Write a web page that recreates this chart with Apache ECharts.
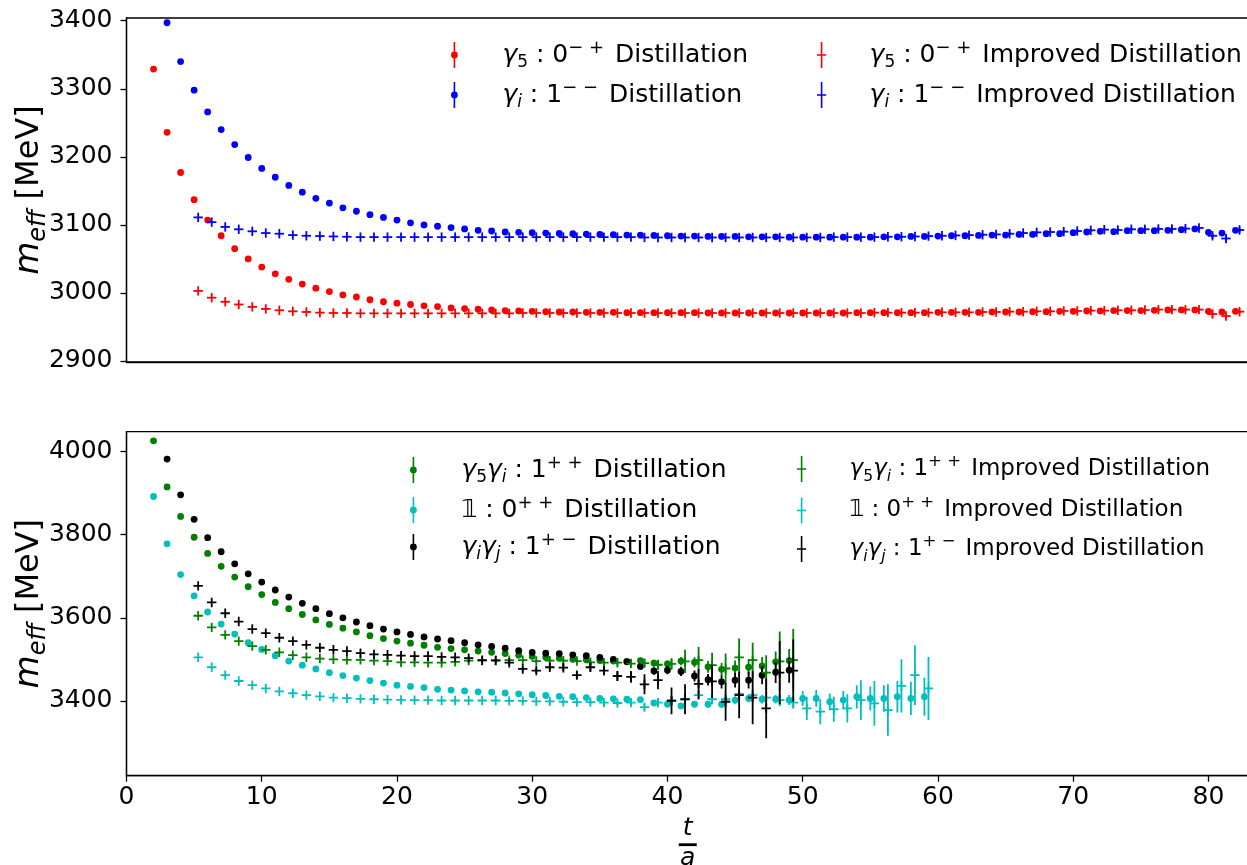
<!DOCTYPE html>
<html><head><meta charset="utf-8">
<script src="https://cdn.jsdelivr.net/npm/echarts@6/dist/echarts.min.js"></script>
<style>html,body{margin:0;padding:0;background:#fff}#c{width:1247px;height:865px}</style>
</head><body><div id="c"></div>
<script>
// ---------------- DATA ----------------
const xTicks = [0,10,20,30,40,50,60,70,80];
const yTicksTop = [2900,3000,3100,3200,3300,3400];
const yTicksBot = [3400,3600,3800,4000];

// Top panel: first t of each series
const tRedD = 2, tBlueD = 3, tRedI = 5, tBlueI = 5;
const redD = [3329,3236,3177,3137,3107,3084,3065,3050,3038,3028,
 3020,3013,3007,3002,2997,2994,2990,2987,2985,2983,
 2981,2980,2978,2977,2976,2975,2974,2973.5,2973,2972.5,
 2972,2972,2971.5,2971.5,2971.5,2971,2971,2971,2971,2971,
 2971,2970.5,2970.5,2970.5,2970.5,2970.5,2970.5,2970.5,2970.5,2970.5,
 2970.5,2970.5,2971,2971,2971,2971,2971,2971,2971.5,2971.5,
 2971.5,2971.5,2972,2972,2972,2972.5,2972.5,2973,2973,2973.5,
 2973.5,2974,2974,2974,2974.5,2975,2975,2975,2973,2972,
 2973];
const redDerr = [0.3,0.3,0.3,0.3,0.3,0.3,0.3,0.3,0.3,0.3,
 0.4,0.4,0.4,0.4,0.4,0.4,0.4,0.4,0.4,0.4,
 0.6,0.6,0.6,0.6,0.6,0.6,0.6,0.6,0.6,0.6,
 0.8,0.8,0.8,0.8,0.8,0.8,0.8,0.8,0.8,0.8,
 1,1,1,1,1,1,1,1,1,1,
 1.3,1.3,1.3,1.3,1.3,1.3,1.3,1.3,1.3,1.3,
 1.6,1.6,1.6,1.6,1.6,1.6,1.6,1.6,1.6,1.6,
 2,2,2,2,2,2,2,2,2,2,
 2.2];
const blueD = [3397,3340,3298,3266,3240,3218,3199,3183,3170,3158,
 3148,3139,3132,3125,3120,3115,3111,3107,3103,3100,
 3098,3096,3094,3092,3091,3089.5,3089,3088.5,3088,3087.5,
 3087,3086.5,3086,3085.5,3085,3085,3084.5,3084,3083.5,3083.5,
 3083,3083,3083,3082.5,3082.5,3082.5,3082,3082,3082,3082,
 3082,3082,3082,3082.5,3082.5,3083,3083,3083.5,3084,3084,
 3084.5,3085,3085,3086,3086,3087,3087,3088.5,3089.5,3090.5,
 3090,3091.5,3091.5,3091.5,3092,3093,3094,3089,3088,3092];
const blueDerr = [0.3,0.3,0.3,0.3,0.3,0.3,0.3,0.3,0.3,0.3,
 0.5,0.5,0.5,0.5,0.5,0.5,0.5,0.5,0.5,0.5,
 0.7,0.7,0.7,0.7,0.7,0.7,0.7,0.7,0.7,0.7,
 0.9,0.9,0.9,0.9,0.9,0.9,0.9,0.9,0.9,0.9,
 1.1,1.1,1.1,1.1,1.1,1.1,1.1,1.1,1.1,1.1,
 1.4,1.4,1.4,1.4,1.4,1.4,1.4,1.4,1.4,1.4,
 1.8,1.8,1.8,1.8,1.8,1.8,1.8,1.8,1.8,1.8,
 2.2,2.2,2.2,2.2,2.2,2.2,2.2,2.2,2.2,2.2];
const redI = [3003,2993,2987,2983,2979.5,2976.5,2974.5,2973,2972,2971,
 2970.5,2970.5,2970,2970,2970,2970,2970,2970,2970,2970,
 2970,2970,2970,2970,2970.5,2970.5,2970.5,2970.5,2970.5,2970.5,
 2970.5,2970.5,2970.5,2970.5,2970.5,2970.5,2970.5,2970.5,2970.5,2970.5,
 2970.5,2970.5,2970.5,2970.5,2970.5,2970.5,2970.5,2970.5,2970.5,2970.5,
 2971,2971,2971,2971,2971,2971.5,2971.5,2971.5,2972,2972,
 2972.5,2972.5,2973,2973,2973.5,2973.5,2974,2974,2974.5,2974.5,
 2975,2975.5,2975.5,2975.5,2975.5,2969,2966,2972.5];
const redIerr = [0.5,0.5,0.5,0.5,0.5,0.5,0.5,0.5,0.5,0.5,
 0.8,0.8,0.8,0.8,0.8,0.8,0.8,0.8,0.8,0.8,
 1,1,1,1,1,1,1,1,1,1,
 1.3,1.3,1.3,1.3,1.3,1.3,1.3,1.3,1.3,1.3,
 1.6,1.6,1.6,1.6,1.6,1.6,1.6,1.6,1.6,1.6,
 2,2,2,2,2,2,2,2,2,2,
 2.5,2.5,2.5,2.5,2.5,2.5,2.5,2.5,2.5,2.5,
 3,3,3,3,3,4,4,3.5];
const blueI = [3111,3104,3097,3093.5,3090.5,3088,3087,3085,3084,3083.5,
 3083,3082.5,3082,3082,3082,3082,3082,3082,3082,3082,
 3082,3082,3082,3082,3082,3082,3082,3082,3082,3082,
 3082,3082,3082,3081.5,3081.5,3081.5,3081.5,3081.5,3081.5,3081.5,
 3081.5,3081.5,3081.5,3081.5,3081.5,3081.5,3081.5,3082,3082,3082,
 3082,3082.5,3082.5,3083,3083.5,3084,3084.5,3085,3085.5,3086,
 3087,3088,3089,3089.5,3090,3091,3092,3093,3092.5,3093.5,
 3093.5,3094,3094,3094.5,3095.5,3084,3080,3092.5];
const blueIerr = [0.5,0.5,0.5,0.5,0.5,0.5,0.5,0.5,0.5,0.5,
 0.8,0.8,0.8,0.8,0.8,0.8,0.8,0.8,0.8,0.8,
 1,1,1,1,1,1,1,1,1,1,
 1.3,1.3,1.3,1.3,1.3,1.3,1.3,1.3,1.3,1.3,
 1.6,1.6,1.6,1.6,1.6,1.6,1.6,1.6,1.6,1.6,
 2,2,2,2,2,2,2,2,2,2,
 2.5,2.5,2.5,2.5,2.5,2.5,2.5,2.5,2.5,2.5,
 3,3,3,3,3,4,4,3.5];

// Bottom panel
const tGreenD = 2, tCyanD = 2, tBlackD = 3, tGreenI = 5, tCyanI = 5, tBlackI = 5;
const greenD = [4026,3915,3844,3794,3755,3724,3698,3675,3656,3637,
 3622,3608,3595,3584,3575,3566,3557,3550,3544,3539,
 3534,3529,3526,3523,3520,3517,3514,3510,3507,3505,
 3503,3500,3499,3497,3496,3495,3497,3491,3489,3496,
 3493,3482,3476,3479,3481,3484,3494,3497];
const greenDerr = [0.5,0.5,0.5,0.5,0.5,0.5,0.5,0.5,0.5,0.5,
 1,1,1,1,1,1,1,1,1,1,
 1.5,1.5,1.5,1.5,1.5,2,2,2.5,3,3,
 3.5,4,4,5,5,6,7,8,9,10,
 12,14,15,18,20,22,25,28];
const cyanD = [3892,3778,3704,3653,3614,3585,3561,3540,3524,3509,
 3496,3486,3477,3468,3461,3455,3449,3443,3438,3435,
 3432,3428,3426,3424,3422,3421,3419,3417,3415,3413,
 3411,3410,3408,3406,3405,3404,3403,3395,3392,3388,
 3392,3392,3392,3402,3406,3404,3404,3402,3406,3406,
 3398,3402,3410,3406,3406,3410,3406,3410];
const cyanDerr = [0.5,0.5,0.5,0.5,0.5,0.5,0.5,0.5,0.5,0.5,
 1,1,1,1,1,1,1,1,1,1,
 1.5,1.5,1.5,1.5,1.5,2,2,2.5,2.5,3,
 3,3.5,4,4,4.5,5,5.5,6,6.5,7,
 7.5,8,8.5,9,9.5,10,10,12,18,20,
 20,22,28,29,32,38,40,46];
const blackD = [3982,3896,3837,3793,3759,3730,3706,3686,3667,3650,
 3635,3622,3610,3600,3590,3581,3573,3566,3560,3554,
 3549,3545,3540,3535,3531,3527,3521,3517,3515,3514,
 3511,3509,3505,3500,3494,3483,3472,3474,3471,3460,
 3451,3446,3450,3450,3462,3469,3474];
const blackDerr = [0.5,0.5,0.5,0.5,0.5,0.5,0.5,0.5,0.5,0.5,
 1,1,1,1,1,1,1,1,1,1,
 1.5,1.5,2,2,2.5,2.5,3,3,3.5,4,
 4.5,5,5.5,6,7,8,9,10,11,13,
 14,16,18,20,22,26,30];
const greenI = [3605,3577,3559,3544,3532,3523,3517,3510,3505,3502,
 3500,3499,3499,3497,3496,3493,3493,3492,3492,3494,
 3497,3497,3498,3498,3498,3496,3497,3497,3496,3493,
 3492,3492,3490,3491,3487,3489,3495,3498,3486,3478,
 3505,3498,3468,3495,3498];
const greenIerr = [1,1,1,1,1,1,1,1,1,1,
 1.5,1.5,1.5,1.5,1.5,1.5,1.5,1.5,1.5,1.5,
 2,2.5,3,3,3.5,4,4,5,5,6,
 6,7,8,10,12,14,28,32,30,36,
 45,42,42,72,75];
const cyanI = [3505,3481,3462,3448,3438,3430,3423,3418.5,3414,3411,
 3408,3406.5,3405,3404,3403,3402.5,3402,3402,3401,3401,
 3401,3401,3401,3400,3400,3399,3399,3398,3397,3397,
 3396,3395,3396,3385,3396,3402,3404,3414,3404,3404,
 3417,3414,3408,3402,3396,3382,3374,3380,3382,3402,
 3394,3378,3436,3462,3430];
const cyanIerr = [1,1,1,1,1,1,1,1,1,1,
 1.5,1.5,1.5,1.5,1.5,1.5,1.5,1.5,1.5,1.5,
 2,2,2.5,2.5,3,3,3.5,4,4,4.5,
 5,5.5,6,8,9,10,10,11,12,12,
 13,14,15,15,15,28,30,30,34,48,
 54,62,64,72,76];
const blackI = [3677,3637,3611,3591,3573,3563,3552,3544,3535,3528,
 3523,3520,3515,3512,3511,3509,3508,3508,3506,3505,
 3503,3498,3497,3492,3477,3473,3481,3480,3462,3481,
 3473,3460,3458,3440,3450,3400,3404,3441,3447,3398,
 3414,3408,3382,3468,3473];
const blackIerr = [1,1,1,1,1,1,1,1,1,1,
 2,2,2,2,2,2,2,2,2,2,
 3,3.5,4,5,6,6,7,8,9,10,
 11,12,14,24,22,32,36,36,40,46,
 56,64,72,76,75];

// ---------------- CHART ----------------
const F = 'DejaVu Sans';
const SHIFT = 0.3; // horizontal dodge of "Improved" points
function pts(vals, errs, t0, shift){ return vals.map((v,i)=>[t0+i+shift, v, errs[i]]); }

function renderer(kind){
  return function(params, api){
    const x=api.value(0), y=api.value(1), e=api.value(2);
    const c=api.coord([x,y]), lo=api.coord([x,y-e]), hi=api.coord([x,y+e]);
    const col=api.visual('color');
    const ch=[{type:'line', shape:{x1:c[0],y1:lo[1],x2:c[0],y2:hi[1]}, style:{stroke:col,lineWidth:1.8}}];
    if(kind==='dot'){
      ch.push({type:'circle', shape:{cx:c[0],cy:c[1],r:3.4}, style:{fill:col}});
    } else {
      ch.push({type:'line', shape:{x1:c[0]-4.7,y1:c[1],x2:c[0]+4.7,y2:c[1]}, style:{stroke:col,lineWidth:1.8}});
      ch.push({type:'line', shape:{x1:c[0],y1:c[1]-4.7,x2:c[0],y2:c[1]+4.7}, style:{stroke:col,lineWidth:1.8}});
    }
    return {type:'group', children:ch};
  };
}
const ICON_D = 'path://M4.2,0h1.6v10.5h-1.6z M4.2,15.5h1.6v10.5h-1.6z M1.6,13a3.4,3.4 0 1,1 6.8,0a3.4,3.4 0 1,1 -6.8,0z';
const ICON_I = 'path://M4.2,0h1.6v26h-1.6z M0.4,12.2h9.2v1.6h-9.2z';

const S = [
 {name:'rD', color:'#ff0000', kind:'dot', g:0, data:pts(redD,redDerr,tRedD,0),
  label:'{g|γ}{sb|5}{r| : 0}{sp|− +}{r| Distillation}'},
 {name:'bD', color:'#0000ff', kind:'dot', g:0, data:pts(blueD,blueDerr,tBlueD,0),
  label:'{g|γ}{sbi|i}{r| : 1}{sp|− −}{r| Distillation}'},
 {name:'rI', color:'#ff0000', kind:'plus', g:0, data:pts(redI,redIerr,tRedI,SHIFT),
  label:'{g|γ}{sb|5}{r| : 0}{sp|− +}{r| Improved Distillation}'},
 {name:'bI', color:'#0000ff', kind:'plus', g:0, data:pts(blueI,blueIerr,tBlueI,SHIFT),
  label:'{g|γ}{sbi|i}{r| : 1}{sp|− −}{r| Improved Distillation}'},
 {name:'gD', color:'#008000', kind:'dot', g:1, data:pts(greenD,greenDerr,tGreenD,0),
  label:'{g|γ}{sb|5}{g|γ}{sbi|i}{r| : 1}{sp|+ +}{r| Distillation}'},
 {name:'cD', color:'#00bfbf', kind:'dot', g:1, data:pts(cyanD,cyanDerr,tCyanD,0),
  label:'{g|𝟙}{r| : 0}{sp|+ +}{r| Distillation}'},
 {name:'kD', color:'#000000', kind:'dot', g:1, data:pts(blackD,blackDerr,tBlackD,0),
  label:'{g|γ}{sbi|i}{g|γ}{sbi|j}{r| : 1}{sp|+ −}{r| Distillation}'},
 {name:'gI', color:'#008000', kind:'plus', g:1, data:pts(greenI,greenIerr,tGreenI,SHIFT),
  label:'{g|γ}{sb|5}{g|γ}{sbi|i}{r| : 1}{sp|+ +}{r| Improved Distillation}'},
 {name:'cI', color:'#00bfbf', kind:'plus', g:1, data:pts(cyanI,cyanIerr,tCyanI,SHIFT),
  label:'{g|𝟙}{r| : 0}{sp|+ +}{r| Improved Distillation}'},
 {name:'kI', color:'#000000', kind:'plus', g:1, data:pts(blackI,blackIerr,tBlackI,SHIFT),
  label:'{g|γ}{sbi|i}{g|γ}{sbi|j}{r| : 1}{sp|+ −}{r| Improved Distillation}'}
];
const labelMap = {}; S.forEach(s=>labelMap[s.name]=s.label);

function makeRich(fs){
  const k = fs/25;
  return {
    g:{fontFamily:F, fontStyle:'italic', fontSize:fs, color:'#000'},
    sb:{fontFamily:F, fontSize:17*k, verticalAlign:'bottom', color:'#000'},
    sbi:{fontFamily:F, fontStyle:'italic', fontSize:17*k, verticalAlign:'bottom', color:'#000'},
    sp:{fontFamily:F, fontSize:18*k, verticalAlign:'top', color:'#000', padding:[0,3*k,0,0]},
    r:{fontFamily:F, fontSize:fs, lineHeight:32, color:'#000'}
  };
}
function legend(names, left, top, fs, gap){
  return {orient:'vertical', left:left, top:top, padding:0, itemWidth:86, itemHeight:26, itemGap:gap,
    data:names.map(n=>({name:n, icon: n.endsWith('D')?ICON_D:ICON_I})),
    formatter:n=>labelMap[n], textStyle:{rich:makeRich(fs), fontSize:fs, fontFamily:F},
    selectedMode:false};
}
const axisLineStyle = {color:'#000', width:1.3};
const yName = '{m|m}{e|eff}{r| [MeV]}';
const yNameStyle = {rich:{
  m:{fontFamily:F, fontStyle:'italic', fontSize:34, color:'#000'},
  e:{fontFamily:F, fontStyle:'italic', fontSize:24, verticalAlign:'bottom', color:'#000'},
  r:{fontFamily:F, fontSize:32, lineHeight:42, color:'#000'}}};
const fmt = v => String(v);

const option = {
  animation:false,
  backgroundColor:'#fff',
  textStyle:{fontFamily:F},
  grid:[
    {left:126.5, top:18, width:1122.5, height:344, show:true, borderColor:'#000', borderWidth:1.3, outerBoundsMode:'none', containLabel:false},
    {left:126.5, top:431.7, width:1122.5, height:344, show:true, borderColor:'#000', borderWidth:1.3, outerBoundsMode:'none', containLabel:false}
  ],
  xAxis:[
    {type:'value', gridIndex:0, min:0, max:83, axisLabel:{show:false}, axisTick:{show:false},
     splitLine:{show:false}, axisLine:{lineStyle:axisLineStyle}},
    {type:'value', gridIndex:1, min:0, max:83, splitLine:{show:false}, axisLine:{lineStyle:axisLineStyle},
     axisLabel:{customValues:xTicks, formatter:fmt, fontSize:25, color:'#000', fontFamily:F, margin:9},
     axisTick:{customValues:xTicks, length:6, lineStyle:axisLineStyle},
     name:'{t|t}\n{b| }\n{a|a}', nameLocation:'middle', nameGap:40, nameMoveOverlap:false,
     nameTextStyle:{align:'center', rich:{
       t:{fontFamily:F, fontStyle:'italic', fontSize:25, lineHeight:26, color:'#000', align:'center'},
       b:{width:18, height:2.8, lineHeight:6, backgroundColor:'#000', fontSize:4, align:'center'},
       a:{fontFamily:F, fontStyle:'italic', fontSize:25, lineHeight:22, color:'#000', align:'center'}}}}
  ],
  yAxis:[
    {type:'value', gridIndex:0, min:2898.5, max:3404, splitLine:{show:false}, axisLine:{show:true, lineStyle:axisLineStyle},
     axisLabel:{customValues:yTicksTop, formatter:fmt, fontSize:25, color:'#000', fontFamily:F, margin:14},
     axisTick:{show:true, customValues:yTicksTop, length:6, lineStyle:axisLineStyle},
     name:yName, nameLocation:'middle', nameRotate:90, nameGap:76, nameMoveOverlap:false, nameTextStyle:yNameStyle},
    {type:'value', gridIndex:1, min:3220, max:4048, splitLine:{show:false}, axisLine:{show:true, lineStyle:axisLineStyle},
     axisLabel:{customValues:yTicksBot, formatter:fmt, fontSize:25, color:'#000', fontFamily:F, margin:14},
     axisTick:{show:true, customValues:yTicksBot, length:6, lineStyle:axisLineStyle},
     name:yName, nameLocation:'middle', nameRotate:90, nameGap:76, nameMoveOverlap:false, nameTextStyle:yNameStyle}
  ],
  legend:[
    legend(['rD','bD'], 451, 39, 25, 8),
    legend(['rI','bI'], 817, 39, 25, 8),
    legend(['gD','cD','kD'], 410, 454, 25, 8),
    legend(['gI','cI','kI'], 797, 453, 23, 9.5)
  ],
  series:S.map(s=>({
    type:'custom', name:s.name, xAxisIndex:s.g, yAxisIndex:s.g, clip:true,
    itemStyle:{color:s.color}, encode:{x:0, y:1},
    renderItem:renderer(s.kind), data:s.data
  }))
};
const chart = echarts.init(document.getElementById('c'), null, {renderer:'canvas'});
chart.setOption(option);
</script></body></html>
